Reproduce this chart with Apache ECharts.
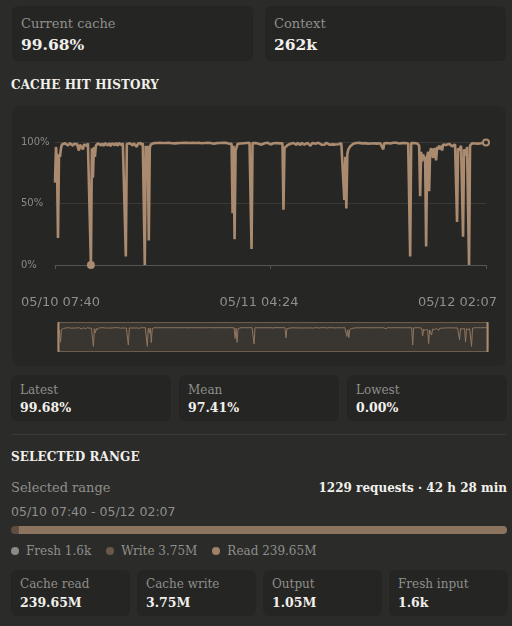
<!DOCTYPE html>
<html>
<head>
<meta charset="utf-8">
<script src="https://cdn.jsdelivr.net/npm/echarts@6/dist/echarts.min.js"></script>
<style>
  html, body { margin:0; padding:0; }
  body { width:512px; height:626px; background:#2b2b29; position:relative; overflow:hidden; font-family:'DejaVu Serif', serif; }
  .a { position:absolute; white-space:nowrap; }
  .box { position:absolute; background:#252524; border-radius:6px; }
  .lbl { color:#8f8f8b; }
  .val { color:#f1f0eb; font-weight:bold; }
  .head { color:#f1f0eb; font-weight:bold; letter-spacing:0.1px; }
  .sans { font-family:'DejaVu Sans', sans-serif; color:#8f8f8b; }
  #panel { position:absolute; left:12px; top:106px; width:494px; height:260px; background:#262625; border-radius:8px; }
  #chart { position:absolute; left:0; top:0; width:494px; height:260px; }
  #tokbar { position:absolute; left:11px; top:526px; width:496px; height:8px; }
  #legend { position:absolute; left:11px; top:542px; height:17px; display:flex; align-items:center; font-size:12px; color:#8f8f8b; white-space:nowrap; }
  #legend .it { display:flex; align-items:center; margin-right:15px; }
  #legend .dot { width:8px; height:8px; border-radius:50%; margin-right:7px; }
  .sep { position:absolute; left:11px; top:434px; width:495px; height:1px; background:#3a3a38; }
</style>
</head>
<body>
<div id="panel"><div id="chart"></div></div>
<div id="tokbar"></div>
<div id="legend"></div>
<div class="sep"></div>
<script>
// ---------- data ----------
const topLabels = ['Current cache', 'Context'];
const topValues = ['99.68%', '262k'];
const statLabels = ['Latest', 'Mean', 'Lowest'];
const statValues = ['99.68%', '97.41%', '0.00%'];
const axisTimeLabels = ['05/10 07:40', '05/11 04:24', '05/12 02:07'];
const rangeLabel = 'Selected range';
const rangeText = '05/10 07:40 - 05/12 02:07';
const rangeSummary = '1229 requests \u00b7 42 h 28 min';
const tokenNames = ['Fresh', 'Write', 'Read'];
const tokenMillions = [0.0016, 3.75, 239.65];
const tokenText = ['1.6k', '3.75M', '239.65M'];
const usageLabels = ['Cache read', 'Cache write', 'Output', 'Fresh input'];
const usageValues = ['239.65M', '3.75M', '1.05M', '1.6k'];

// cache hit rate (%) per request, in order
const hitRate = [
  67, 96, 84, 22, 90, 88, 95, 98, 97.5, 96.8, 99, 97.6, 98.8, 97.2, 96.5, 99, 97.8, 99.2, 96.9, 98.6, 99.1, 97, 98.4, 99,
  93, 97.8, 99, 97.2, 94, 98, 99.2, 97.9, 96.8, 99, 97.5, 99.1, 0, 95, 71, 96, 88, 97, 98.2, 99, 97.6, 99.2, 97.1, 98.8,
  98.2, 96.9, 99.1, 97.8, 99.3, 97.2, 98.9, 98, 96.6, 99, 97.9, 99.3, 97.4, 99.1, 98.3, 96.9, 99.2, 97.8, 99, 97.3, 99.2, 98.4, 99, 7,
  98.4, 99.2, 97.5, 99, 97.9, 99.3, 97.2, 99, 98.1, 99.2, 96, 98.5, 99.3, 97.6, 99.1, 97.4, 99.2, 98.7, 0, 97, 72, 97, 20, 95,
  98, 98.9, 99.3, 99.1, 99.4, 98.8, 99.2, 99.4, 99.1, 99.3, 98.9, 99.4, 99.2, 99, 99.4, 99.2, 98.7, 99.3, 99.4, 99.1, 99.3, 99, 99.4, 99.2,
  98.9, 99.3, 99.4, 99.1, 99.3, 98.8, 99.2, 99.4, 99, 99.3, 99.2, 98.6, 99.3, 99.4, 99.1, 99.2, 99.4, 98.9, 99.3, 99.1, 99.4, 99.2, 98.8, 99.3,
  99.4, 99.1, 99.3, 99, 99.4, 98.7, 99.2, 99.4, 99.1, 99.3, 98.9, 99.4, 99.2, 99, 99.3, 98.6, 99.2, 99.4, 99.1, 99.3, 98.9, 99.2, 99.4, 99,
  99.3, 98.8, 99.2, 99.4, 99.1, 99.3, 98.7, 99.2, 99, 98.5, 42, 97, 21, 93, 94, 98.5, 99.1, 99.3, 98.8, 99.2, 99.4, 99, 99.3, 98.9,
  99.2, 99.4, 99.1, 99.3, 99, 13, 99.1, 99.3, 98.8, 99.2, 99.4, 99, 98.6, 99.3, 99.1, 97.8, 99.2, 99.4, 99, 99.3, 98.9, 99.4, 99.1, 99.3,
  98, 99.2, 99.4, 99, 99.3, 98.8, 99.2, 99.4, 99.1, 98.9, 99.3, 99.2, 99, 45, 95, 94, 96.5, 97.5, 98.4, 96, 98.6, 99, 98.4, 99.2,
  98.6, 99, 97.6, 99.3, 98.2, 99.1, 97.5, 99.2, 98.4, 99.4, 97.8, 99.1, 98.3, 99.3, 97.9, 99, 97, 98.5, 99.2, 97.8, 99.3, 98.6, 97.6, 99.2,
  99.4, 98.3, 99.2, 97.9, 99.3, 98.8, 97.7, 99.2, 99.4, 98.2, 99.2, 97.8, 99.3, 98.9, 98.1, 99.4, 98.8, 97.9, 99.3, 99, 98.2, 99.4, 98.7, 99,
  99.3, 99, 53, 88, 46, 90, 94, 95.5, 96.5, 97.2, 98, 98.6, 99.1, 98.7, 99.2, 98.5, 99, 99.3, 98.8, 99.2, 98.9, 99.3, 98.6, 99.1,
  99.4, 99, 98.7, 99.3, 99.1, 98.8, 99.3, 99.2, 98.9, 99.4, 99, 98.7, 99.2, 99.4, 99, 98.8, 99.2, 94, 99, 99.3, 98.8, 99.2, 99.4, 99,
  98.7, 99.3, 99.1, 99.4, 98.9, 99.2, 99.4, 99, 99.3, 98.8, 99.2, 99.4, 99.1, 98.9, 99.3, 99.2, 99.4, 99, 98.8, 99.2, 7, 99.1, 99.3, 98.9,
  99.2, 99.4, 99, 98.8, 98, 97, 56, 92, 84, 90, 86, 88, 15, 88, 92, 60, 92, 95, 90, 87, 95, 93, 85, 96,
  94, 97, 94, 97, 93, 98, 97, 98.5, 97.5, 98.5, 97, 98.5, 97.5, 98, 96.5, 98, 97.5, 98, 97, 35, 95, 93, 92, 97,
  96, 23, 94, 91, 89, 96, 95, 0, 97, 98.5, 99, 98.6, 99.2, 98.8, 99.3, 99, 98.7, 99.2, 99.4, 99, 99.3, 98.9, 99.4, 99.2,
  99.68
];
const yTicks = [0, 50, 100];

// ---------- colours ----------
const tan = '#aa8b6f';
const panelBg = '#262625';
const tokenBarColors = ['#8b8b86', '#5f4f43', '#8d745e'];
const tokenDotColors = ['#8b8b86', '#6b5849', '#a08269'];

// ---------- layout helpers ----------
function box(x, y, w, h) {
  const d = document.createElement('div');
  d.className = 'box';
  d.style.left = x + 'px'; d.style.top = y + 'px';
  d.style.width = w + 'px'; d.style.height = h + 'px';
  document.body.appendChild(d);
}
function txt(s, x, cy, size, cls, align) {
  const d = document.createElement('div');
  d.className = 'a ' + cls;
  d.textContent = s;
  const L = Math.round(size * 1.25);
  d.style.fontSize = size + 'px';
  d.style.lineHeight = L + 'px';
  d.style.top = (cy - L / 2) + 'px';
  if (align === 'right') d.style.right = (512 - x) + 'px';
  else if (align === 'center') { d.style.left = x + 'px'; d.style.transform = 'translateX(-50%)'; }
  else d.style.left = x + 'px';
  document.body.appendChild(d);
}

// top cards
const topX = [12, 265];
topLabels.forEach((l, k) => {
  box(topX[k], 6, 241, 55);
  txt(l, topX[k] + 9, 23.5, 13, 'lbl');
  txt(topValues[k], topX[k] + 9, 44.3, 15.5, 'val');
});
txt('CACHE HIT HISTORY', 11, 85.3, 12, 'head');

// chart date labels
txt(axisTimeLabels[0], 21, 302, 13, 'sans');
txt(axisTimeLabels[1], 259, 302, 13, 'sans', 'center');
txt(axisTimeLabels[2], 497, 302, 13, 'sans', 'right');

// stats cards
const statX = [11, 179, 347];
statLabels.forEach((l, k) => {
  box(statX[k], 375, 160, 46);
  txt(l, statX[k] + 9, 390, 12, 'lbl');
  txt(statValues[k], statX[k] + 9, 408, 12.5, 'val');
});
txt('SELECTED RANGE', 11, 457.7, 12, 'head');
txt(rangeLabel, 11, 488, 13, 'lbl');
txt(rangeSummary, 507, 488, 12, 'val', 'right');
txt(rangeText, 11, 511.7, 12.5, 'sans');

// legend
const legend = document.getElementById('legend');
tokenNames.forEach((n, k) => {
  const it = document.createElement('div'); it.className = 'it';
  const dot = document.createElement('div'); dot.className = 'dot'; dot.style.background = tokenDotColors[k];
  const t = document.createElement('span'); t.textContent = n + ' ' + tokenText[k];
  it.appendChild(dot); it.appendChild(t); legend.appendChild(it);
});

// usage cards
const useX = [11, 137, 263, 389];
usageLabels.forEach((l, k) => {
  box(useX[k], 570, 118.5, 46);
  txt(l, useX[k] + 9, 584.3, 12, 'lbl');
  txt(usageValues[k], useX[k] + 9, 603.3, 12.5, 'val');
});

// ---------- hit-rate chart ----------
const N = hitRate.length;
const mid = Math.floor((N - 1) / 2);
const requestIndex = hitRate.map((_, i) => i + 1);
const chart = echarts.init(document.getElementById('chart'), null, { renderer: 'canvas' });
const shadowStyle = { lineStyle: { color: '#8c735d', width: 1, opacity: 1 }, areaStyle: { opacity: 0 } };
chart.setOption({
  animation: false,
  backgroundColor: 'transparent',
  grid: { left: 43, right: 20, top: 36, bottom: 101 },
  xAxis: {
    type: 'category', data: requestIndex, boundaryGap: false,
    axisLine: { lineStyle: { color: '#555553' } },
    axisTick: { show: true, length: 4, lineStyle: { color: '#555553' },
      interval: (i) => i === 0 || i === mid || i === N - 1 },
    axisLabel: { show: false },
    splitLine: { show: false }
  },
  yAxis: {
    type: 'value', min: yTicks[0], max: yTicks[2], interval: yTicks[1] - yTicks[0],
    axisLabel: { formatter: '{value}%', color: '#8b8b88', fontSize: 10, fontFamily: 'DejaVu Sans', align: 'left', margin: 34 },
    splitLine: { lineStyle: { color: '#3a3a38' } },
    axisLine: { show: false }, axisTick: { show: false }
  },
  dataZoom: [{
    type: 'slider', xAxisIndex: 0, start: 0, end: 100,
    left: 43, right: 20, top: 216, height: 30,
    brushSelect: false, showDetail: false, showDataShadow: true,
    backgroundColor: 'transparent',
    borderColor: '#6e5c4b', borderRadius: 2,
    fillerColor: 'rgba(168,138,112,0.15)',
    handleIcon: 'path://M0,0H2V30H0Z', handleSize: '100%',
    handleStyle: { color: tan, borderWidth: 0 },
    moveHandleSize: 3, moveHandleIcon: 'none',
    moveHandleStyle: { color: '#4a4a48', opacity: 1 },
    dataBackground: shadowStyle,
    selectedDataBackground: shadowStyle,
    emphasis: { handleStyle: { color: tan, borderWidth: 0 }, moveHandleStyle: { color: '#4a4a48', opacity: 1 } }
  }],
  series: [{
    type: 'line', data: hitRate, symbol: 'none',
    lineStyle: { color: tan, width: 2.6 }, itemStyle: { color: tan },
    markPoint: {
      animation: false, label: { show: false }, symbol: 'circle',
      data: [
        { type: 'min', valueDim: 'y', symbolSize: 8, itemStyle: { color: tan } },
        { coord: [N - 1, hitRate[N - 1]], symbolSize: 6, itemStyle: { color: panelBg, borderColor: tan, borderWidth: 2 } }
      ]
    }
  }]
});

// ---------- token bar ----------
const total = tokenMillions.reduce((a, b) => a + b, 0);
const bar = echarts.init(document.getElementById('tokbar'), null, { renderer: 'canvas' });
bar.setOption({
  animation: false,
  grid: { left: 0, right: 0, top: 0, bottom: 0 },
  xAxis: { type: 'value', min: 0, max: total, show: false },
  yAxis: { type: 'category', data: ['tokens'], show: false },
  series: tokenNames.map((n, k) => ({
    type: 'bar', name: n, stack: 'tok', data: [tokenMillions[k]], barWidth: 8,
    itemStyle: { color: tokenBarColors[k], borderRadius: k === 1 ? [4, 0, 0, 4] : (k === 2 ? [0, 4, 4, 0] : 0) }
  }))
});
</script>
</body>
</html>
